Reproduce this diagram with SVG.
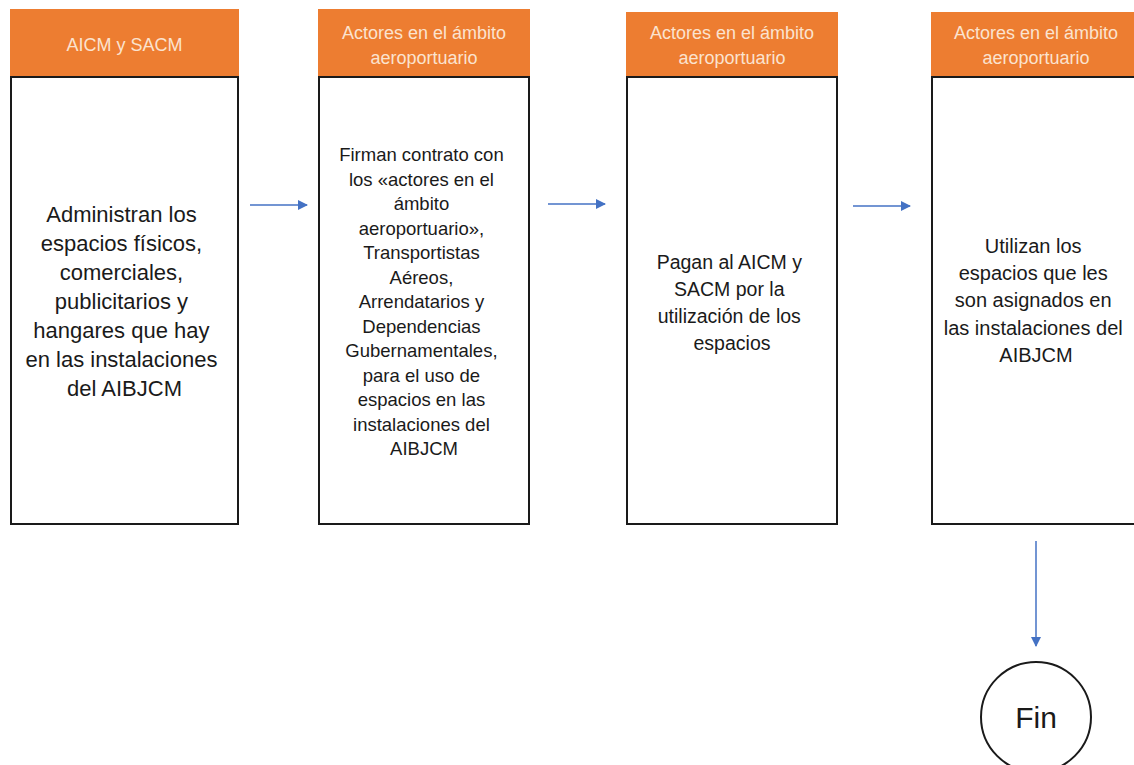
<svg xmlns="http://www.w3.org/2000/svg" width="1134" height="765" viewBox="0 0 1134 765">
<defs>
<marker id="ah" markerWidth="10" markerHeight="10" refX="9" refY="5" orient="auto" markerUnits="userSpaceOnUse">
<path d="M0,0 L10,5 L0,10 Z" fill="#4472C4"/>
</marker>
<style>
.hdr{fill:#ED7D31;}
.body{fill:#ffffff;stroke:#1a1a1a;stroke-width:2;}
.ht{font-family:"Liberation Sans",Arial,sans-serif;font-size:18px;fill:#FBE3CF;text-anchor:middle;}
.bt{font-family:"Liberation Sans",Arial,sans-serif;fill:#1a1a1a;text-anchor:middle;}
.conn{stroke:#4472C4;stroke-width:1.5;fill:none;marker-end:url(#ah);}
</style>
</defs>
<rect width="1134" height="765" fill="#ffffff"/>
<g id="node1">
<rect class="hdr" x="10" y="9" width="229" height="68"/>
<rect class="body" x="11" y="77" width="227" height="447"/>
<text class="ht" x="124.5" y="51">AICM y SACM</text>
<text class="bt" font-size="22" x="124.5">
<tspan x="124.5" y="222">Administran los</tspan>
<tspan x="124.5" y="251">espacios físicos,</tspan>
<tspan x="124.5" y="280">comerciales,</tspan>
<tspan x="124.5" y="309">publicitarios y</tspan>
<tspan x="124.5" y="338">hangares que hay</tspan>
<tspan x="124.5" y="367">en las instalaciones</tspan>
<tspan x="124.5" y="396">del AIBJCM</tspan>
</text>
</g>
<g id="node2">
<rect class="hdr" x="318" y="9" width="212" height="68"/>
<rect class="body" x="319" y="77" width="210" height="447"/>
<text class="ht"><tspan x="424" y="39">Actores en el ámbito</tspan><tspan x="424" y="64">aeroportuario</tspan></text>
<text class="bt" font-size="18.5">
<tspan x="424" y="161">Firman contrato con</tspan>
<tspan x="424" y="185.5">los «actores en el</tspan>
<tspan x="424" y="210">ámbito</tspan>
<tspan x="424" y="234.5">aeroportuario»,</tspan>
<tspan x="424" y="259">Transportistas</tspan>
<tspan x="424" y="283.5">Aéreos,</tspan>
<tspan x="424" y="308">Arrendatarios y</tspan>
<tspan x="424" y="332.5">Dependencias</tspan>
<tspan x="424" y="357">Gubernamentales,</tspan>
<tspan x="424" y="381.5">para el uso de</tspan>
<tspan x="424" y="406">espacios en las</tspan>
<tspan x="424" y="430.5">instalaciones del</tspan>
<tspan x="424" y="455">AIBJCM</tspan>
</text>
</g>
<g id="node3">
<rect class="hdr" x="626" y="12" width="212" height="65"/>
<rect class="body" x="627" y="77" width="210" height="447"/>
<text class="ht"><tspan x="732" y="39">Actores en el ámbito</tspan><tspan x="732" y="64">aeroportuario</tspan></text>
<text class="bt" font-size="19.5">
<tspan x="732" y="269">Pagan al AICM y</tspan>
<tspan x="732" y="296">SACM por la</tspan>
<tspan x="732" y="323">utilización de los</tspan>
<tspan x="732" y="350">espacios</tspan>
</text>
</g>
<g id="node4">
<rect class="hdr" x="931" y="12" width="210" height="65"/>
<rect class="body" x="932" y="77" width="210" height="447"/>
<text class="ht"><tspan x="1036" y="39">Actores en el ámbito</tspan><tspan x="1036" y="64">aeroportuario</tspan></text>
<text class="bt" font-size="20">
<tspan x="1036" y="253">Utilizan los</tspan>
<tspan x="1036" y="280">espacios que les</tspan>
<tspan x="1036" y="307">son asignados en</tspan>
<tspan x="1036" y="335">las instalaciones del</tspan>
<tspan x="1036" y="362">AIBJCM</tspan>
</text>
</g>
<g id="fin">
<circle cx="1036" cy="717" r="55" fill="#ffffff" stroke="#1a1a1a" stroke-width="2"/>
<text class="bt" font-size="30" x="1036" y="728">Fin</text>
</g>
<g id="connectors">
<line class="conn" x1="250" y1="205" x2="307" y2="205"/>
<line class="conn" x1="548" y1="204" x2="605" y2="204"/>
<line class="conn" x1="853" y1="206" x2="910" y2="206"/>
<line class="conn" x1="1036" y1="541" x2="1036" y2="646"/>
</g>
</svg>
